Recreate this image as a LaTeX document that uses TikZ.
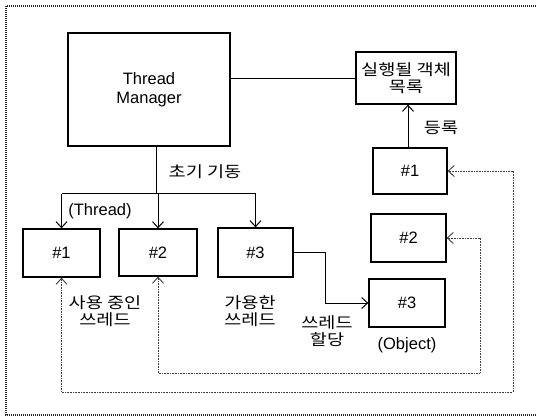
\documentclass[tikz,border=0pt]{standalone}
\usepackage{fontspec}
\setmainfont{Liberation Sans}
\newfontfamily\kr[FakeStretch=1.2]{Noto Sans CJK KR}
\usetikzlibrary{arrows.meta}
\begin{document}
\begin{tikzpicture}[x=1pt,y=-1pt,
  box/.style={draw,line width=1.3pt,inner sep=0pt,font=\fontsize{16.5}{19}\selectfont},
  lat/.style={font=\fontsize{16.5}{19}\selectfont,inner sep=0pt},
  ko/.style={font=\kr\fontsize{15.5}{17}\selectfont,align=center,inner sep=0pt},
  conn/.style={line width=1pt},
  arr/.style={-{Straight Barb[length=6pt,width=11pt]}},
  dbl/.style={{Straight Barb[length=6pt,width=11pt]}-{Straight Barb[length=6pt,width=11pt]}},
  dots/.style={dash pattern=on 0.8pt off 0.8pt,line width=0.9pt,black!75},
  frame/.style={dash pattern=on 1pt off 1pt,line width=1.2pt,black!85}]
\useasboundingbox (0,0) rectangle (536,417);
\draw[frame] (536,6) -- (6,6) -- (6,415) -- (536,415);

\node[box,line width=2.6pt,minimum width=162pt,minimum height=113pt,align=center] (tm) at (149,89.5) {Thread\\Manager};
\node[box,minimum width=100pt,minimum height=52pt] (list) at (406,78) {};
\node[ko] (listtxt) at (list.center) {실행될 객체\\목록};
\node[box,minimum width=74pt,minimum height=46pt] (o1) at (410,171) {\#1};
\node[box,minimum width=75pt,minimum height=48pt] (o2) at (408.5,238) {\#2};
\node[box,minimum width=76pt,minimum height=48pt] (o3) at (407,303) {\#3};
\node[box,minimum width=77pt,minimum height=48pt] (t1) at (61.5,253) {\#1};
\node[box,minimum width=78pt,minimum height=47pt] (t2) at (158,252.5) {\#2};
\node[box,minimum width=75pt,minimum height=49pt] (t3) at (255.5,252.5) {\#3};

% labels
\node[ko] (init) at (205,172) {초기 기동};
\node[ko] (reg) at (441,128) {등록};
\node[lat] (thr) at (100,211) {(Thread)};
\node[ko] (busy) at (105,311) {사용 중인\\쓰레드};
\node[ko] (avail) at (250,311) {가용한\\쓰레드};
\node[ko] (alloc) at (327,331) {쓰레드\\할당};
\node[lat] (objl) at (407,345) {(Object)};

% connectors
\draw[conn] (tm.east |- 0,79) -- (list.west |- 0,79);
\draw[conn,arr] (o1.north -| 408,0) -- (list.south -| 408,0);
\coordinate (j) at (156,194);
\draw[conn] (tm.south -| j) -- (j);
\draw[conn] (t1.north |- j) -- (t3.north |- j);
\draw[conn,arr] (t1.north |- j) -- (t1.north);
\draw[conn,arr] (t2.north |- j) -- (t2.north);
\draw[conn,arr] (t3.north |- j) -- (t3.north);
\draw[conn,arr] (t3.east) -- (325,252.5) |- (o3.west);

\coordinate (c1) at (513,392);
\coordinate (c2) at (480,373);
\draw[dots,dbl] (t1.south) -- (t1.south |- c1) -- (c1) |- (o1.east);
\draw[dots,dbl] (t2.south) -- (t2.south |- c2) -- (c2) |- (o2.east);
\end{tikzpicture}
\end{document}
